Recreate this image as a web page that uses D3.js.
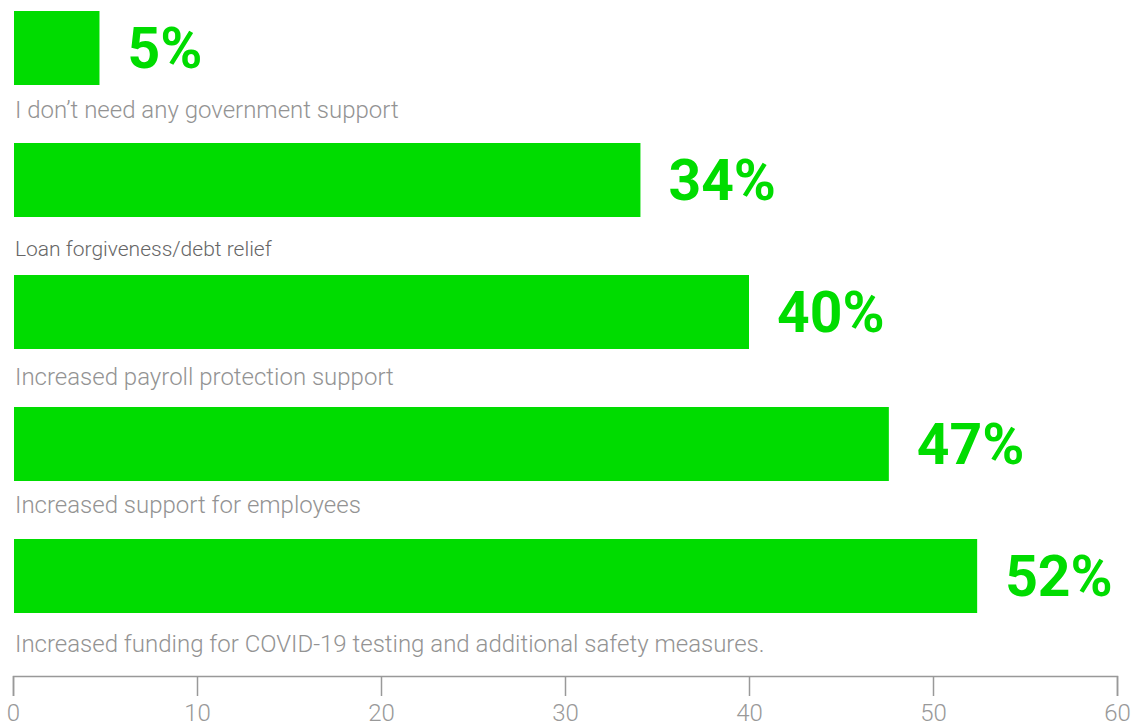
<!DOCTYPE html>
<html>
<head>
<meta charset="utf-8">
<script src="https://cdn.jsdelivr.net/npm/d3@7"></script>
<style>
  body { margin: 0; background: #fff; }
  text { font-family: Roboto, sans-serif; }
</style>
</head>
<body>
<div id="chart"></div>
<script>
// data
var categories = [
  "I don\u2019t need any government support",
  "Loan forgiveness/debt relief",
  "Increased payroll protection support",
  "Increased support for employees",
  "Increased funding for COVID-19 testing and additional safety measures."
];
var values = [4.7, 34.1, 40, 47.6, 52.4];
var valueLabels = ["5%", "34%", "40%", "47%", "52%"];
var ticks = [0, 10, 20, 30, 40, 50, 60];

var width = 1136, height = 726;

var svg = d3.select("#chart")
  .append("svg")
    .attr("width", width)
    .attr("height", height);

var x = d3.scaleLinear()
  .domain([0, 60])
  .range([13, 1117]);

var y = d3.scaleBand()
  .domain(categories)
  .range([11, 613])
  .paddingInner(58 / 132)
  .paddingOuter(0);

// bars
svg.append("g")
  .selectAll("rect")
  .data(categories)
  .enter()
  .append("rect")
    .attr("x", x(0) + 1)
    .attr("y", function(d) { return y(d); })
    .attr("width", function(d, i) { return x(values[i]) - x(0) - 1; })
    .attr("height", y.bandwidth())
    .style("fill", "#00dc00");

// value labels
svg.append("g")
  .selectAll("text")
  .data(categories)
  .enter()
  .append("text")
    .attr("x", function(d, i) { return x(values[i]) + 28; })
    .attr("y", function(d) { return y(d) + y.bandwidth() / 2 + 20; })
    .text(function(d, i) { return valueLabels[i]; })
    .style("font-size", "57px")
    .style("font-weight", 700)
    .style("fill", "#00dc00");

// category labels (the gaps under the bars are not quite even in the original)
var labelGap = [33, 39, 36, 32, 39];
svg.append("g")
  .selectAll("text")
  .data(categories)
  .enter()
  .append("text")
    .attr("x", 15)
    .attr("y", function(d, i) { return y(d) + y.bandwidth() + labelGap[i]; })
    .text(function(d) { return d; })
    .style("font-size", function(d, i) { return i == 1 ? "21px" : "24px"; })
    .style("font-weight", 300)
    .style("fill", function(d, i) { return i == 1 ? "#666" : "#939393"; });

// x axis
var axis = svg.append("g")
  .attr("transform", "translate(0,676)")
  .call(d3.axisBottom(x).tickValues(ticks).tickSize(20).tickSizeOuter(20).tickPadding(8));

axis.selectAll("path, line")
  .style("stroke", "#999")
  .style("stroke-width", 1.5);

axis.selectAll("text")
  .style("font-size", "24px")
  .style("font-weight", 300)
  .style("fill", "#999")
  .style("font-family", "Roboto, sans-serif");
</script>
</body>
</html>
